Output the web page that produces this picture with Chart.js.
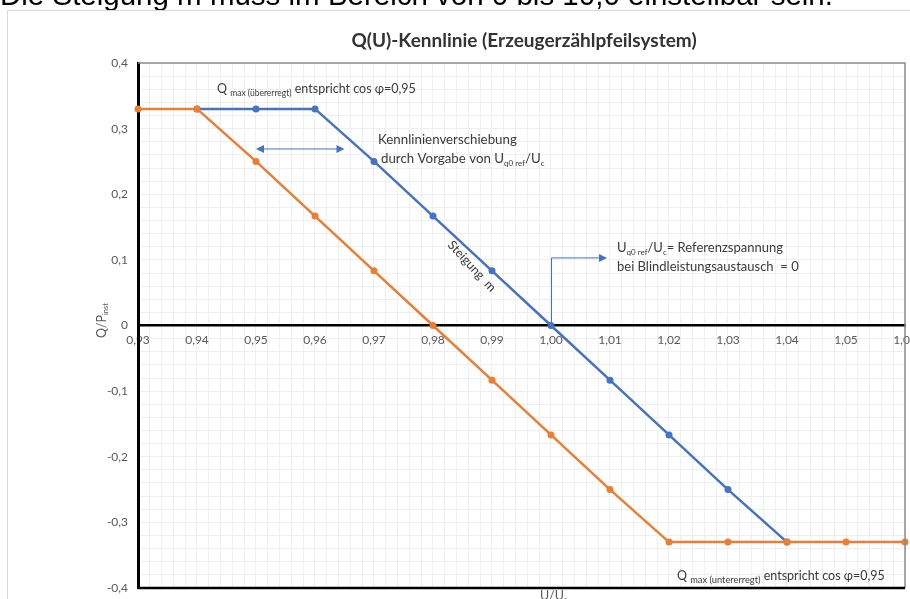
<!DOCTYPE html>
<html>
<head>
<meta charset="utf-8">
<script src="https://cdn.jsdelivr.net/npm/chart.js@4.4.1/dist/chart.umd.min.js"></script>
<style>
  html, body { margin: 0; padding: 0; background: #ffffff; overflow: hidden; }
  #wrap { width: 910px; height: 599px; position: relative; }
</style>
</head>
<body>
<div id="wrap"><canvas id="chart" width="910" height="599"></canvas></div>
<script>
// U/Uc values (x axis)
var uValues = [0.93, 0.94, 0.95, 0.96, 0.97, 0.98, 0.99, 1.00, 1.01, 1.02, 1.03, 1.04, 1.05, 1.06];
// Q/Pinst, shifted characteristic (orange)
var qOrange = [0.33, 0.33, 0.25, 0.1667, 0.0833, 0, -0.0833, -0.1667, -0.25, -0.33, -0.33, -0.33, -0.33, -0.33];
// Q/Pinst, characteristic with Uq0ref/Uc = 1,00 (blue)
var qBlue = [null, 0.33, 0.33, 0.33, 0.25, 0.1667, 0.0833, 0, -0.0833, -0.1667, -0.25, -0.33, null, null];

var xMin = 0.93, xMax = 1.06, xStep = 0.01, xMinorStep = 0.002;
var yMin = -0.4, yMax = 0.4, yStep = 0.1, yMinorStep = 0.02;

var blue = '#4472C4';
var orange = '#ED7D31';
var textColor = '#3a3a3a';
var tickColor = '#595959';
var fam = 'Lato, "Open Sans", sans-serif';

function toPoints(ys) {
    var pts = [];
    for (var i = 0; i < uValues.length; i++) {
        if (ys[i] !== null) pts.push({x: uValues[i], y: ys[i]});
    }
    return pts;
}

function comma(v, d) {
    return v.toFixed(d).replace('.', ',');
}

// draws a line of text made of parts [text, size, dy]
function drawParts(ctx, x, y, parts) {
    for (var i = 0; i < parts.length; i++) {
        var p = parts[i];
        ctx.font = p[1] + 'px ' + fam;
        ctx.fillText(p[0], x, y + (p[2] || 0));
        x += ctx.measureText(p[0]).width;
    }
    return x;
}

function arrowHead(ctx, x, y, dir, size) {
    ctx.beginPath();
    ctx.moveTo(x, y);
    ctx.lineTo(x - dir * size, y - size * 0.5);
    ctx.lineTo(x - dir * size, y + size * 0.5);
    ctx.closePath();
    ctx.fill();
}

// no extra room for the edge tick labels, the plot runs to the window edge
function noPad(s) {
    s.paddingLeft = 0;
    s.paddingRight = 0;
    s.paddingTop = 0;
    s.paddingBottom = 0;
}

var decorations = {
    id: 'decorations',
    beforeDraw: function(chart) {
        var ctx = chart.ctx;
        ctx.save();
        // page text above the figure
        ctx.fillStyle = '#000';
        ctx.font = '29.5px "Liberation Sans", Arial, sans-serif';
        ctx.textBaseline = 'alphabetic';
        ctx.fillText('Die Steigung m muss im Bereich von 0 bis 10,0 einstellbar sein.', 0, 5);
        // figure frame
        ctx.strokeStyle = '#d9d9d9';
        ctx.lineWidth = 1;
        ctx.strokeRect(7.5, 10.5, 1000, 1000);
        ctx.restore();
    },
    afterDatasetsDraw: function(chart) {
        var ctx = chart.ctx;
        var xs = chart.scales.x, ys = chart.scales.y;
        var a = chart.chartArea;
        ctx.save();

        // plot border: top and right grey, bottom black
        ctx.strokeStyle = '#8c8c8c';
        ctx.lineWidth = 1.5;
        ctx.beginPath();
        ctx.moveTo(a.left, a.top);
        ctx.lineTo(a.right, a.top);
        ctx.lineTo(a.right, a.bottom);
        ctx.stroke();
        ctx.strokeStyle = '#000';
        ctx.lineWidth = 2.5;
        ctx.beginPath();
        ctx.moveTo(a.left, a.bottom);
        ctx.lineTo(a.right, a.bottom);
        ctx.stroke();

        // title
        ctx.fillStyle = '#333';
        ctx.textAlign = 'center';
        ctx.textBaseline = 'alphabetic';
        ctx.font = 'bold 19px ' + fam;
        ctx.fillText('Q(U)-Kennlinie (Erzeugerzählpfeilsystem)', 524, 47);

        // axis titles
        ctx.fillStyle = tickColor;
        ctx.textAlign = 'left';
        ctx.save();
        ctx.translate(106, 338);
        ctx.rotate(-Math.PI / 2);
        drawParts(ctx, 0, 0, [['Q/P', 12.5, 0], ['inst', 7.5, 2]]);
        ctx.restore();
        drawParts(ctx, 540, 600, [['U/U', 12.5, 0], ['c', 7.5, 2]]);

        ctx.fillStyle = textColor;
        // Qmax übererregt
        drawParts(ctx, 217, 93, [['Q ', 12.5, 0], ['max (übererregt)', 8.5, 3], [' entspricht cos φ=0,95', 12.5, 0]]);
        // Qmax untererregt
        drawParts(ctx, 677, 580, [['Q ', 12.5, 0], ['max (untererregt)', 9.3, 3], [' entspricht cos φ=0,95', 12.5, 0]]);

        // shift annotation
        drawParts(ctx, 378, 144, [['Kennlinienverschiebung', 13.3, 0]]);
        drawParts(ctx, 381, 163, [['durch Vorgabe von U', 13.3, 0], ['q0 ref', 8, 3], ['/U', 13.3, 0], ['c', 8, 3]]);

        // double arrow
        ctx.strokeStyle = blue;
        ctx.fillStyle = blue;
        ctx.lineWidth = 1;
        var ax1 = xs.getPixelForValue(0.95), ax2 = xs.getPixelForValue(0.965), ay = ys.getPixelForValue(0.269);
        ctx.beginPath();
        ctx.moveTo(ax1 + 6, ay);
        ctx.lineTo(ax2 - 6, ay);
        ctx.stroke();
        arrowHead(ctx, ax1, ay, -1, 8);
        arrowHead(ctx, ax2, ay, 1, 8);

        // reference voltage connector
        var cx = xs.getPixelForValue(1.00), cy0 = ys.getPixelForValue(0), cy1 = ys.getPixelForValue(0.103);
        var cx2 = xs.getPixelForValue(1.0095);
        ctx.beginPath();
        ctx.moveTo(cx + 0.5, cy0);
        ctx.lineTo(cx + 0.5, cy1);
        ctx.lineTo(cx2 - 7, cy1);
        ctx.stroke();
        arrowHead(ctx, cx2, cy1, 1, 8);

        ctx.fillStyle = textColor;
        drawParts(ctx, 617, 252, [['U', 13, 0], ['q0 ref', 8, 3], ['/U', 13, 0], ['c', 8, 3], ['= Referenzspannung', 13, 0]]);
        drawParts(ctx, 617, 271, [['bei Blindleistungsaustausch  = 0', 13, 0]]);

        // slope label along the blue line
        ctx.save();
        ctx.translate(469, 269);
        ctx.rotate(47 * Math.PI / 180);
        ctx.textAlign = 'center';
        ctx.font = '12.5px ' + fam;
        ctx.fillText('Steigung  m', 0, 0);
        ctx.restore();

        ctx.restore();
    }
};

var ctx = document.getElementById('chart');
var chart = new Chart(ctx, {
    type: 'line',
    data: {
        datasets: [
            {
                label: 'verschoben',
                data: toPoints(qOrange),
                borderColor: orange,
                backgroundColor: orange,
                borderWidth: 2.5,
                pointRadius: 3.5,
                pointBorderWidth: 0,
                pointBackgroundColor: orange,
                fill: false,
                clip: false,
                xAxisID: 'x',
                yAxisID: 'y'
            },
            {
                label: 'Uq0ref/Uc = 1,00',
                data: toPoints(qBlue),
                borderColor: blue,
                backgroundColor: blue,
                borderWidth: 2.5,
                pointRadius: 3.5,
                pointBorderWidth: 0,
                pointBackgroundColor: blue,
                fill: false,
                clip: false,
                xAxisID: 'x',
                yAxisID: 'y'
            }
        ]
    },
    options: {
        responsive: false,
        animation: false,
        events: [],
        layout: { padding: { left: 0, top: 63, right: 5, bottom: 11 } },
        plugins: {
            legend: { display: false },
            tooltip: { enabled: false },
            title: { display: false }
        },
        scales: {
            x: {
                type: 'linear',
                min: xMin,
                max: xMax,
                position: { y: 0 },
                ticks: {
                    stepSize: xStep,
                    autoSkip: false,
                    maxRotation: 0,
                    padding: 7,
                    color: tickColor,
                    font: { family: fam, size: 12 },
                    callback: function(v) { return comma(v, 2); }
                },
                grid: { color: '#d9d9d9', lineWidth: 1, drawTicks: false },
                border: { color: '#000', width: 2.5 },
                afterFit: noPad
            },
            y: {
                type: 'linear',
                min: yMin,
                max: yMax,
                position: 'left',
                ticks: {
                    stepSize: yStep,
                    padding: 10,
                    color: tickColor,
                    font: { family: fam, size: 12 },
                    callback: function(v) { return Math.abs(v) < 1e-9 ? '0' : comma(v, 1); }
                },
                grid: { color: '#d9d9d9', lineWidth: 1, drawTicks: false },
                border: { color: '#000', width: 3 },
                afterFit: function(s) { noPad(s); s.width = 138; }
            },
            x2: {
                type: 'linear',
                axis: 'x',
                min: xMin,
                max: xMax,
                position: { y: 0 },
                z: -1,
                ticks: { display: false, stepSize: xMinorStep },
                grid: { color: '#efefef', lineWidth: 1, drawTicks: false },
                border: { display: false },
                afterFit: noPad
            },
            y2: {
                type: 'linear',
                axis: 'y',
                min: yMin,
                max: yMax,
                position: { x: xMin },
                z: -1,
                ticks: { display: false, stepSize: yMinorStep },
                grid: { color: '#efefef', lineWidth: 1, drawTicks: false },
                border: { display: false },
                afterFit: noPad
            }
        }
    },
    plugins: [decorations]
});
</script>
</body>
</html>
